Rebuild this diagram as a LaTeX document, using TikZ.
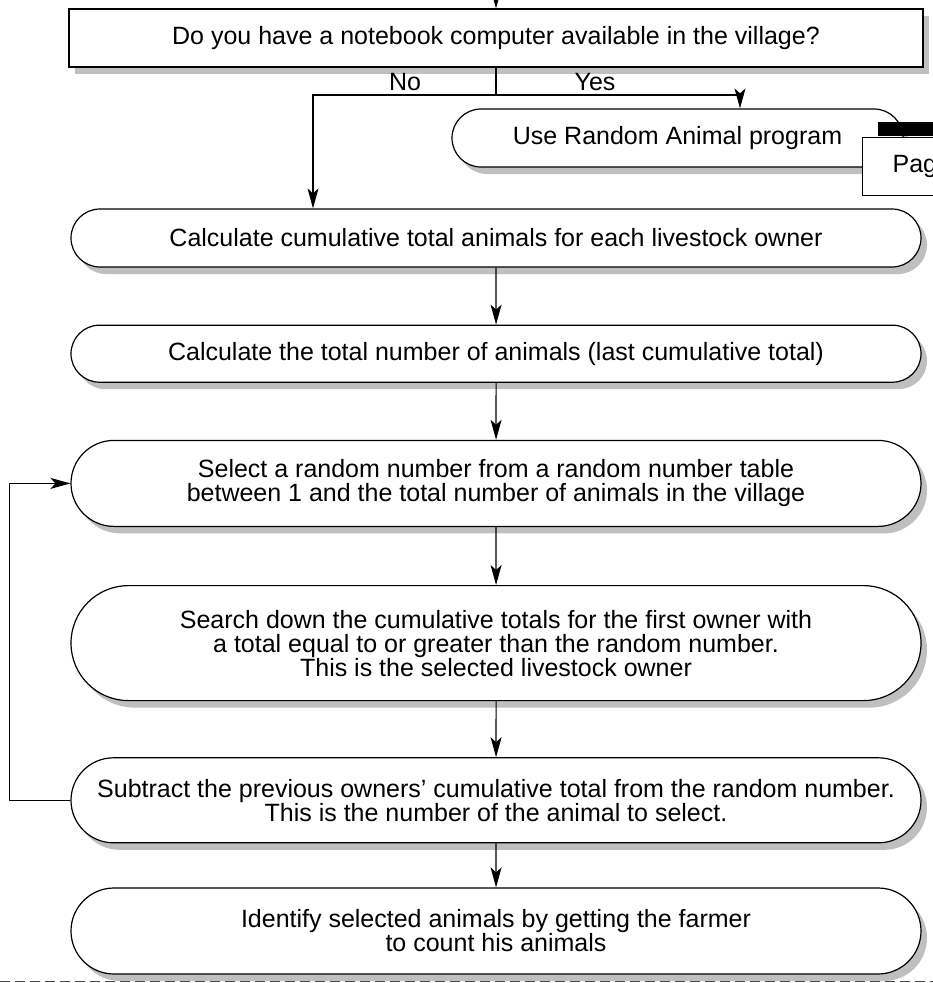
\documentclass[tikz,border=0pt]{standalone}
\usepackage{fontspec}
\setmainfont{Liberation Sans}
\usetikzlibrary{positioning, arrows.meta, shapes.misc, shadows}

\begin{document}
\begin{tikzpicture}[x=1pt, y=1pt, line width=1.2pt, font=\fontsize{25}{24}\selectfont,
        box/.style={draw, fill=white, align=center, inner sep=2pt, minimum width=854pt,
            drop shadow={shadow xshift=6pt, shadow yshift=-7pt, fill=black!25, opacity=1}},
        pill/.style={box, rounded rectangle},
        arr/.style={-{Stealth[length=20pt, width=11pt, inset=5pt]}}]
    \useasboundingbox (0,0) rectangle (933,-983);
    \clip (0,0) rectangle (933,-983);
    \node[box, minimum height=58pt] (question) at (496,-38) {Do you have a notebook computer available in the village?};
    \node[pill, minimum width=455pt, minimum height=58pt] (useprog) at (677.5,-138) {Use Random Animal program};
    \node[draw, fill=white, anchor=north west, minimum height=58pt, text width=60pt, inner xsep=30pt, align=left] (pageref) at (862,-137) {Page};
    \node[fill=black, anchor=south west, minimum width=70pt, minimum height=14pt, inner sep=0pt] (pagetab) at (877,-137) {};
    \node[pill, minimum height=58pt] (calccum) at (496,-238) {Calculate cumulative total animals for each livestock owner};
    \node[pill, minimum height=57pt, below=57pt of calccum] (calctot) {Calculate the total number of animals (last cumulative total)};
    \node[pill, minimum height=86pt, below=57pt of calctot] (select) {Select a random number from a random number table\\between 1 and the total number of animals in the village};
    \node[pill, minimum height=115pt, below=58pt of select] (search) {Search down the cumulative totals for the first owner with\\a total equal to or greater than the random number.\\This is the selected livestock owner};
    \node[pill, minimum height=85pt, below=56pt of search] (subtract) {Subtract the previous owners' cumulative total from the random number.\\This is the number of the animal to select.};
    \node[pill, minimum height=86pt, below=44pt of subtract] (identify) {Identify selected animals by getting the farmer\\to count his animals};
    \node (nolabel) at (405,-82) {No};
    \node (yeslabel) at (595,-82) {Yes};
    \coordinate (entry) at (496,0);
    \coordinate (fork) at (496,-95);
    \coordinate (nobend) at (313,-95);
    \coordinate (yesbend) at (740,-95);
    \draw[arr] (entry) -- (question.north);
    \draw (question.south) -- (fork);
    \draw[arr] (fork) -- (nobend) -- (nobend |- calccum.north);
    \draw[arr] (fork) -- (yesbend) -- (yesbend |- useprog.north);
    \draw[arr] (calccum) -- (calctot);
    \draw[arr] (calctot) -- (select);
    \draw[arr] (select) -- (search);
    \draw[arr] (search) -- (subtract);
    \draw[arr] (subtract) -- (identify);
    \draw[arr] (subtract.west) -- ++(-61,0) |- (select.west);
    % page break
    \coordinate (breakL) at (0,-981);
    \coordinate (breakR) at (933,-981);
    \draw[black!70, line width=1pt, dash pattern=on 10pt off 5pt] (breakL) -- (breakR);
\end{tikzpicture}
\end{document}
